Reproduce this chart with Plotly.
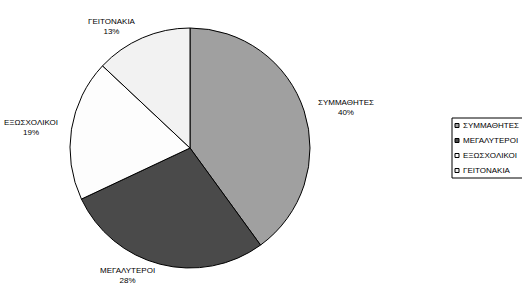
import math
import plotly.graph_objects as go

categories = ["ΣΥΜΜΑΘΗΤΕΣ", "ΜΕΓΑΛΥΤΕΡΟΙ", "ΕΞΩΣΧΟΛΙΚΟΙ", "ΓΕΙΤΟΝΑΚΙΑ"]
values = [40, 28, 19, 13]
colors = ["#a0a0a0", "#4a4a4a", "#fdfdfd", "#f2f2f2"]

W, H = 522, 287
FONT = "Liberation Sans, Arial, sans-serif"

# pie geometry (pixels)
cx, cy, r = 190, 148, 120
dom_x = [(cx - r) / W, (cx + r) / W]
dom_y = [1 - (cy + r) / H, 1 - (cy - r) / H]

fig = go.Figure(go.Pie(
    labels=categories,
    values=values,
    sort=False,
    direction="clockwise",
    rotation=0,
    marker=dict(colors=colors, line=dict(color="#000000", width=1)),
    textinfo="none",
    domain=dict(x=dom_x, y=dom_y),
    hoverinfo="label+percent",
    showlegend=False,
))

# outside labels derived from the data (mid-angle of each slice)
total = sum(values)
cum = 0
annotations = []
for lab, v in zip(categories, values):
    mid = (cum + v / 2) / total * 2 * math.pi
    cum += v
    rr = r + 12
    px = cx + rr * math.sin(mid)
    py = cy - rr * math.cos(mid)
    annotations.append(dict(
        x=px / W, y=1 - py / H, xref="paper", yref="paper",
        text=f"{lab}<br>{round(v / total * 100)}%",
        showarrow=False,
        xanchor="left" if math.sin(mid) >= 0 else "right",
        yanchor="middle", align="center",
        font=dict(family=FONT, size=8, color="#000000"),
    ))

# legend box (drawn as shapes + text)
lg_left, lg_top, lg_bottom = 452, 118, 178
shapes = [dict(type="rect", xref="paper", yref="paper",
               x0=lg_left / W, x1=(W + 5) / W,
               y0=1 - lg_bottom / H, y1=1 - lg_top / H,
               line=dict(color="#000000", width=1), fillcolor="#ffffff", layer="below")]
row_h = (lg_bottom - lg_top) / len(categories)
for i, (lab, col) in enumerate(zip(categories, colors)):
    yc = lg_top + row_h * (i + 0.5)
    shapes.append(dict(type="rect", xref="paper", yref="paper",
                       x0=455 / W, x1=459 / W,
                       y0=1 - (yc + 2) / H, y1=1 - (yc - 2) / H,
                       line=dict(color="#000000", width=1), fillcolor=col))
    annotations.append(dict(
        x=461 / W, y=1 - yc / H, xref="paper", yref="paper",
        text=lab, showarrow=False, xanchor="left", yanchor="middle",
        font=dict(family=FONT, size=8, color="#000000"),
    ))

fig.update_layout(
    width=W, height=H,
    margin=dict(l=0, r=0, t=0, b=0),
    paper_bgcolor="#ffffff",
    plot_bgcolor="#ffffff",
    showlegend=False,
    annotations=annotations,
    shapes=shapes,
)

fig.write_html("out.html",
               config={"displayModeBar": False},
               post_script="document.body.style.margin='0';document.body.style.overflow='hidden';")
